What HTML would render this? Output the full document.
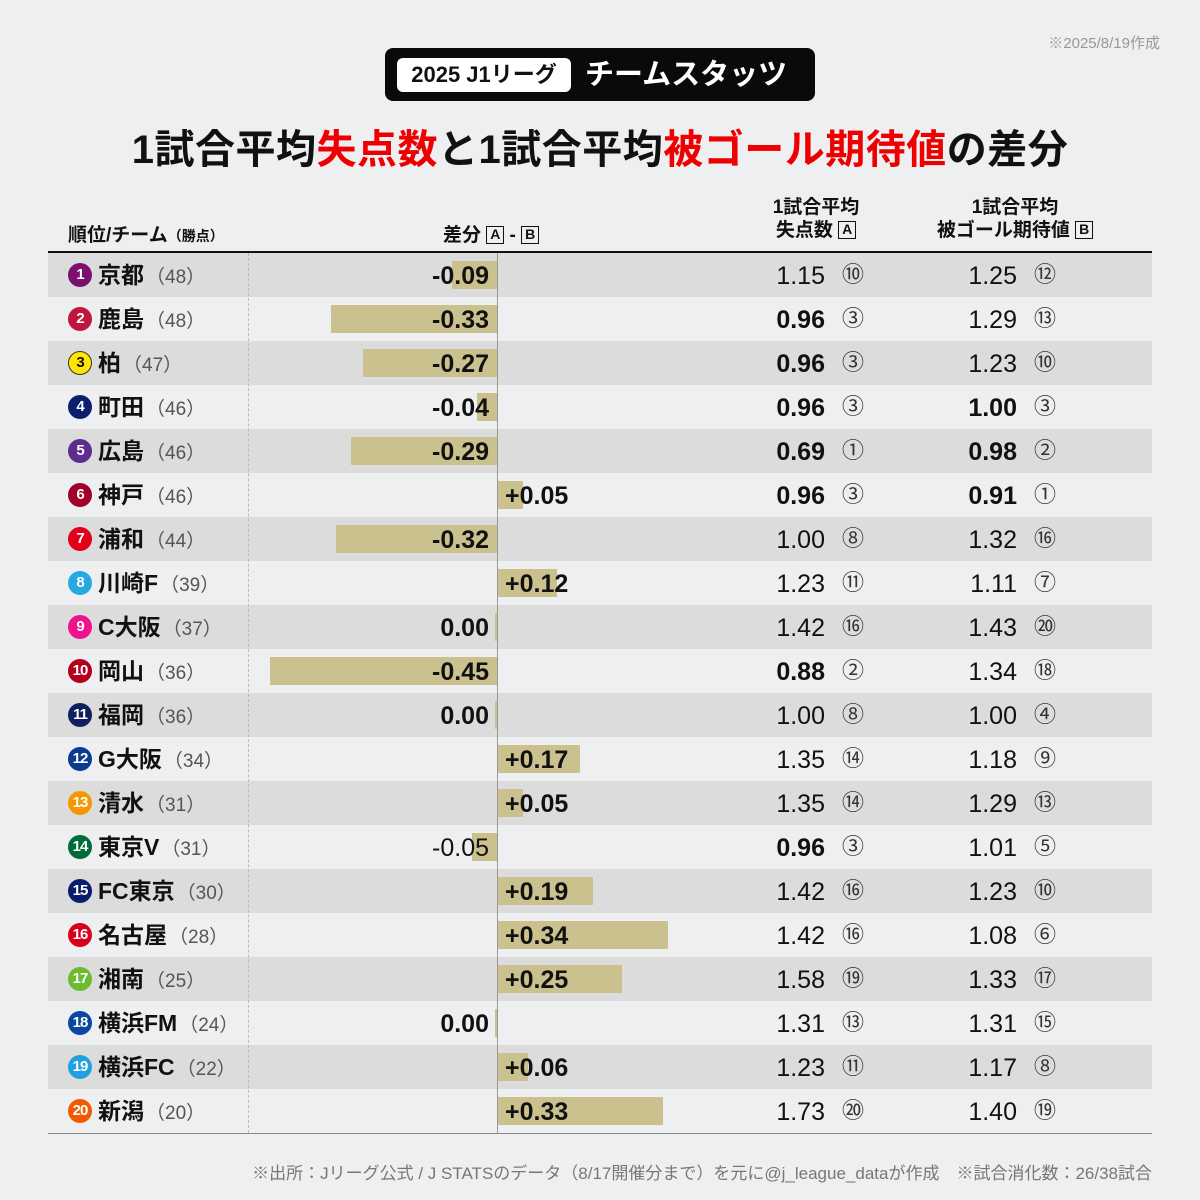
<!DOCTYPE html><html><head><meta charset="utf-8"><style>
*{margin:0;padding:0;box-sizing:border-box}
body{width:1200px;height:1200px;background:#eeeff1;font-family:"Liberation Sans","Noto Sans CJK JP",sans-serif;position:relative;overflow:hidden;color:#111}
.a{position:absolute;white-space:nowrap}
.row{position:absolute;left:48px;width:1104px;height:44px}
.row.s{background:#dcdcdc}
.row>*{position:absolute;white-space:nowrap}
.c{left:20px;top:10px;width:24px;height:24px;border-radius:12px;color:#fff;font-size:15px;font-weight:bold;text-align:center;line-height:24px;letter-spacing:-1px}
.n{left:50px;top:6px;font-size:23px;font-weight:bold;line-height:32px}
.n span{font-weight:normal;color:#555;font-size:19px;margin-left:2px}
.bar{top:8px;height:28px;background:#cbc18e}
.vn{right:663px;top:7px;font-size:25px;font-weight:bold;line-height:32px}
.vp{left:457px;top:7px;font-size:25px;font-weight:bold;line-height:32px}
.A{right:327px;top:7px;font-size:25px;line-height:32px}
.B{right:135px;top:7px;font-size:25px;line-height:32px}
.b{font-weight:bold}
.rA{left:794px;top:10px;font-size:22px;color:#333;line-height:24px}
.rB{left:986px;top:10px;font-size:22px;color:#333;line-height:24px}
.box{display:inline-block;border:1.5px solid #111;font-size:14px;line-height:15px;width:18px;height:18px;text-align:center;vertical-align:2px}
</style></head><body>
<div class="a" style="right:40px;top:32px;font-size:15px;color:#999">※2025/8/19作成</div>
<div class="a" style="left:385px;top:48px;width:430px;height:53px;background:#0a0a0a;border-radius:8px"></div>
<div class="a" style="left:397px;top:58px;width:174px;height:34px;background:#fff;border-radius:6px;font-size:22px;font-weight:bold;text-align:center;line-height:34px">2025 J1リーグ</div>
<div class="a" style="left:585px;top:56px;font-size:29px;font-weight:bold;color:#fff;line-height:38px">チームスタッツ</div>
<div class="a" style="left:0;width:1200px;top:124px;text-align:center;font-size:40px;font-weight:bold;line-height:52px;letter-spacing:0.5px">1試合平均<span style="color:#e00">失点数</span>と1試合平均<span style="color:#e00">被ゴール期待値</span>の差分</div>
<div class="a" style="left:68px;top:220px;font-size:19px;font-weight:bold">順位/チーム<span style="font-size:14px">（勝点）</span></div>
<div class="a" style="left:443px;top:220px;font-size:19px;font-weight:bold">差分 <span class="box">A</span> - <span class="box">B</span></div>
<div class="a" style="left:740px;width:152px;top:196px;text-align:center;font-size:19px;font-weight:bold;line-height:23px">1試合平均<br>失点数 <span class="box">A</span></div>
<div class="a" style="left:915px;width:200px;top:196px;text-align:center;font-size:19px;font-weight:bold;line-height:23px">1試合平均<br>被ゴール期待値 <span class="box">B</span></div>
<div class="a" style="left:48px;top:251px;width:1104px;height:2px;background:#111"></div>

<div class="row s" style="top:253px"><div class="c" style="background:#7b0e6f">1</div><div class="n">京都<span>（48）</span></div><div class="bar" style="left:404px;width:45px"></div><div class="vn">-0.09</div><div class="A">1.15</div><div class="rA">⑩</div><div class="B">1.25</div><div class="rB">⑫</div></div>
<div class="row" style="top:297px"><div class="c" style="background:#c0163e">2</div><div class="n">鹿島<span>（48）</span></div><div class="bar" style="left:283px;width:166px"></div><div class="vn">-0.33</div><div class="A b">0.96</div><div class="rA">③</div><div class="B">1.29</div><div class="rB">⑬</div></div>
<div class="row s" style="top:341px"><div class="c" style="background:#ffe600;color:#111;border:1px solid #333;line-height:22px">3</div><div class="n">柏<span>（47）</span></div><div class="bar" style="left:315px;width:134px"></div><div class="vn">-0.27</div><div class="A b">0.96</div><div class="rA">③</div><div class="B">1.23</div><div class="rB">⑩</div></div>
<div class="row" style="top:385px"><div class="c" style="background:#0c1f6e">4</div><div class="n">町田<span>（46）</span></div><div class="bar" style="left:429px;width:20px"></div><div class="vn">-0.04</div><div class="A b">0.96</div><div class="rA">③</div><div class="B b">1.00</div><div class="rB">③</div></div>
<div class="row s" style="top:429px"><div class="c" style="background:#5b2d8f">5</div><div class="n">広島<span>（46）</span></div><div class="bar" style="left:303px;width:146px"></div><div class="vn">-0.29</div><div class="A b">0.69</div><div class="rA">①</div><div class="B b">0.98</div><div class="rB">②</div></div>
<div class="row" style="top:473px"><div class="c" style="background:#a0002b">6</div><div class="n">神戸<span>（46）</span></div><div class="bar" style="left:449px;width:26px"></div><div class="vp">+0.05</div><div class="A b">0.96</div><div class="rA">③</div><div class="B b">0.91</div><div class="rB">①</div></div>
<div class="row s" style="top:517px"><div class="c" style="background:#e0001b">7</div><div class="n">浦和<span>（44）</span></div><div class="bar" style="left:288px;width:161px"></div><div class="vn">-0.32</div><div class="A">1.00</div><div class="rA">⑧</div><div class="B">1.32</div><div class="rB">⑯</div></div>
<div class="row" style="top:561px"><div class="c" style="background:#25a9e0">8</div><div class="n">川崎F<span>（39）</span></div><div class="bar" style="left:449px;width:60px"></div><div class="vp">+0.12</div><div class="A">1.23</div><div class="rA">⑪</div><div class="B">1.11</div><div class="rB">⑦</div></div>
<div class="row s" style="top:605px"><div class="c" style="background:#ec138c">9</div><div class="n">C大阪<span>（37）</span></div><div class="bar" style="left:447px;width:2px"></div><div class="vn">0.00</div><div class="A">1.42</div><div class="rA">⑯</div><div class="B">1.43</div><div class="rB">⑳</div></div>
<div class="row" style="top:649px"><div class="c" style="background:#b2001e">10</div><div class="n">岡山<span>（36）</span></div><div class="bar" style="left:222px;width:227px"></div><div class="vn">-0.45</div><div class="A b">0.88</div><div class="rA">②</div><div class="B">1.34</div><div class="rB">⑱</div></div>
<div class="row s" style="top:693px"><div class="c" style="background:#0d1f5c">11</div><div class="n">福岡<span>（36）</span></div><div class="bar" style="left:447px;width:2px"></div><div class="vn">0.00</div><div class="A">1.00</div><div class="rA">⑧</div><div class="B">1.00</div><div class="rB">④</div></div>
<div class="row" style="top:737px"><div class="c" style="background:#0a3b8f">12</div><div class="n">G大阪<span>（34）</span></div><div class="bar" style="left:449px;width:83px"></div><div class="vp">+0.17</div><div class="A">1.35</div><div class="rA">⑭</div><div class="B">1.18</div><div class="rB">⑨</div></div>
<div class="row s" style="top:781px"><div class="c" style="background:#f39800">13</div><div class="n">清水<span>（31）</span></div><div class="bar" style="left:449px;width:26px"></div><div class="vp">+0.05</div><div class="A">1.35</div><div class="rA">⑭</div><div class="B">1.29</div><div class="rB">⑬</div></div>
<div class="row" style="top:825px"><div class="c" style="background:#006b3c">14</div><div class="n">東京V<span>（31）</span></div><div class="bar" style="left:424px;width:25px"></div><div class="vn" style="font-weight:normal">-0.05</div><div class="A b">0.96</div><div class="rA">③</div><div class="B">1.01</div><div class="rB">⑤</div></div>
<div class="row s" style="top:869px"><div class="c" style="background:#0a1c6b">15</div><div class="n">FC東京<span>（30）</span></div><div class="bar" style="left:449px;width:96px"></div><div class="vp">+0.19</div><div class="A">1.42</div><div class="rA">⑯</div><div class="B">1.23</div><div class="rB">⑩</div></div>
<div class="row" style="top:913px"><div class="c" style="background:#d6001c">16</div><div class="n">名古屋<span>（28）</span></div><div class="bar" style="left:449px;width:171px"></div><div class="vp">+0.34</div><div class="A">1.42</div><div class="rA">⑯</div><div class="B">1.08</div><div class="rB">⑥</div></div>
<div class="row s" style="top:957px"><div class="c" style="background:#6cbb2e">17</div><div class="n">湘南<span>（25）</span></div><div class="bar" style="left:449px;width:125px"></div><div class="vp">+0.25</div><div class="A">1.58</div><div class="rA">⑲</div><div class="B">1.33</div><div class="rB">⑰</div></div>
<div class="row" style="top:1001px"><div class="c" style="background:#0a47a0">18</div><div class="n">横浜FM<span>（24）</span></div><div class="bar" style="left:447px;width:2px"></div><div class="vn">0.00</div><div class="A">1.31</div><div class="rA">⑬</div><div class="B">1.31</div><div class="rB">⑮</div></div>
<div class="row s" style="top:1045px"><div class="c" style="background:#1fa0e0">19</div><div class="n">横浜FC<span>（22）</span></div><div class="bar" style="left:449px;width:31px"></div><div class="vp">+0.06</div><div class="A">1.23</div><div class="rA">⑪</div><div class="B">1.17</div><div class="rB">⑧</div></div>
<div class="row" style="top:1089px"><div class="c" style="background:#f05a00">20</div><div class="n">新潟<span>（20）</span></div><div class="bar" style="left:449px;width:166px"></div><div class="vp">+0.33</div><div class="A">1.73</div><div class="rA">⑳</div><div class="B">1.40</div><div class="rB">⑲</div></div>

<div class="a" style="left:248px;top:253px;height:880px;border-left:1px dashed #bbb"></div>
<div class="a" style="left:497px;top:253px;width:1px;height:880px;background:#999"></div>
<div class="a" style="left:48px;top:1133px;width:1104px;height:1px;background:#888"></div>
<div class="a" style="right:48px;top:1159px;font-size:17px;color:#777">※出所：Jリーグ公式 / J STATSのデータ（8/17開催分まで）を元に@j_league_dataが作成　※試合消化数：26/38試合</div>
</body></html>
